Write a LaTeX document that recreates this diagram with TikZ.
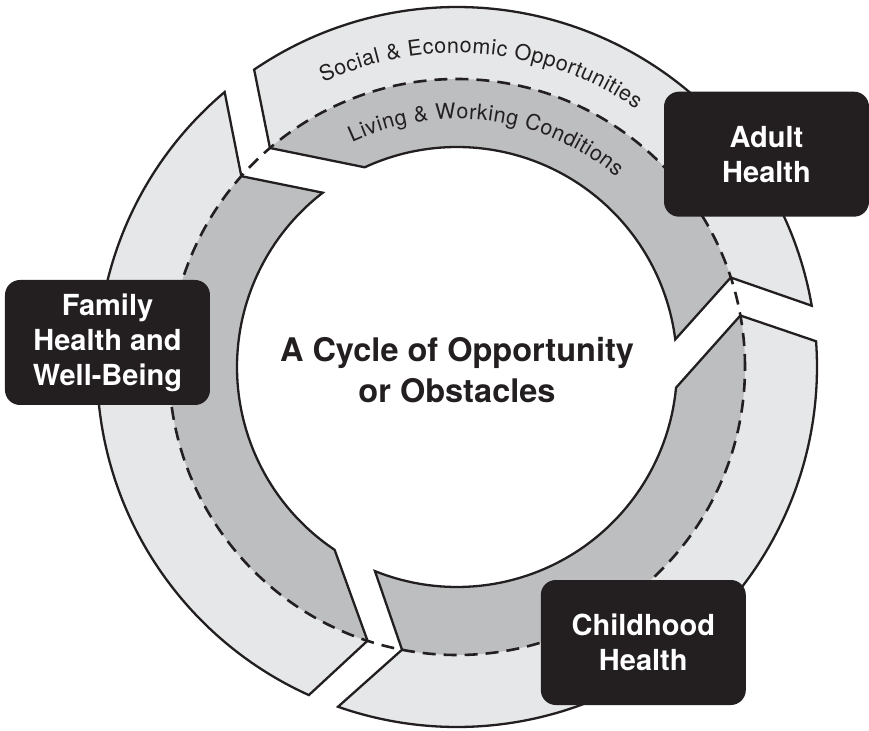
\documentclass[tikz,border=0pt]{standalone}
\usepackage{fontspec}
\setmainfont{TeX Gyre Heros}
\usetikzlibrary{decorations.text}
\definecolor{ringlight}{HTML}{E6E7E8}
\definecolor{ringdark}{HTML}{BCBEC0}
\definecolor{ink}{HTML}{231F20}
% #1 tail outer, #2 head outer, #3 tip, #4 head inner, #5 tail inner, #6 notch
\newcommand\arrowpath[6]{(#1:360pt) arc[start angle=#1, end angle=#2, radius=360pt] -- (#3:288pt) -- (#4:220pt) arc[start angle=#4, end angle=#5, radius=220pt] -- (#6:288pt) -- cycle}
\begin{document}
\begin{tikzpicture}[x=1pt,y=1pt,
  outline/.style={draw=ink, line width=2.3pt, line join=miter},
  dashring/.style={draw=ink, line width=2.6pt, dash pattern=on 13pt off 8pt},
  blackbox/.style={fill=ink, rounded corners=15pt, minimum width=205pt, minimum height=125pt, inner sep=0pt, text=white, align=center, font=\bfseries\fontsize{29}{35}\selectfont},
  centertext/.style={align=center, text=ink, font=\bfseries\fontsize{32.5}{41.5}\selectfont}]
\useasboundingbox (-457,-363) rectangle (412,367);
\coordinate (c) at (0,0);
% light fill
\fill[ringlight] \arrowpath{9.8}{124.3}{130.5}{114.8}{7.2}{18.1};
\fill[ringlight] \arrowpath{130.2}{245.7}{251.9}{236.2}{127.6}{138.5};
\fill[ringlight] \arrowpath{250.7}{364.1}{370.3}{354.6}{248.1}{259.0};
% dark inner band
\begin{scope}
\clip (c) circle[radius=288pt];
\fill[ringdark] \arrowpath{9.8}{124.3}{130.5}{114.8}{7.2}{18.1};
\fill[ringdark] \arrowpath{130.2}{245.7}{251.9}{236.2}{127.6}{138.5};
\fill[ringdark] \arrowpath{250.7}{364.1}{370.3}{354.6}{248.1}{259.0};
\end{scope}
% outlines
\draw[outline] \arrowpath{9.8}{124.3}{130.5}{114.8}{7.2}{18.1};
\draw[outline] \arrowpath{130.2}{245.7}{251.9}{236.2}{127.6}{138.5};
\draw[outline] \arrowpath{250.7}{364.1}{370.3}{354.6}{248.1}{259.0};
% dashed ring
\draw[dashring] (c) circle[radius=288pt];
% curved labels
\path[decorate, decoration={text along path, text align=fit to path, text color=ink,
  text={|\fontsize{21.5}{21.5}\selectfont|Social {\&} Economic Opportunities}}]
  (115.2:314pt) arc[start angle=115.2, end angle=55.2, radius=314pt];
\path[decorate, decoration={text along path, text align=fit to path, text color=ink,
  text={|\fontsize{21.5}{21.5}\selectfont|Living {\&} Working Conditions}}]
  (115:248pt) arc[start angle=115, end angle=50, radius=248pt];
% boxes
\node[blackbox] (adult) at (309.5,212.8) {Adult\\Health};
\node[blackbox] (family) at (-349.5,24.5) {Family\\Health and\\Well-Being};
\node[blackbox] (child) at (186.3,-275.5) {Childhood\\Health};
\node[centertext] (title) at (0,-3) {A Cycle of Opportunity\\or Obstacles};
\end{tikzpicture}
\end{document}
